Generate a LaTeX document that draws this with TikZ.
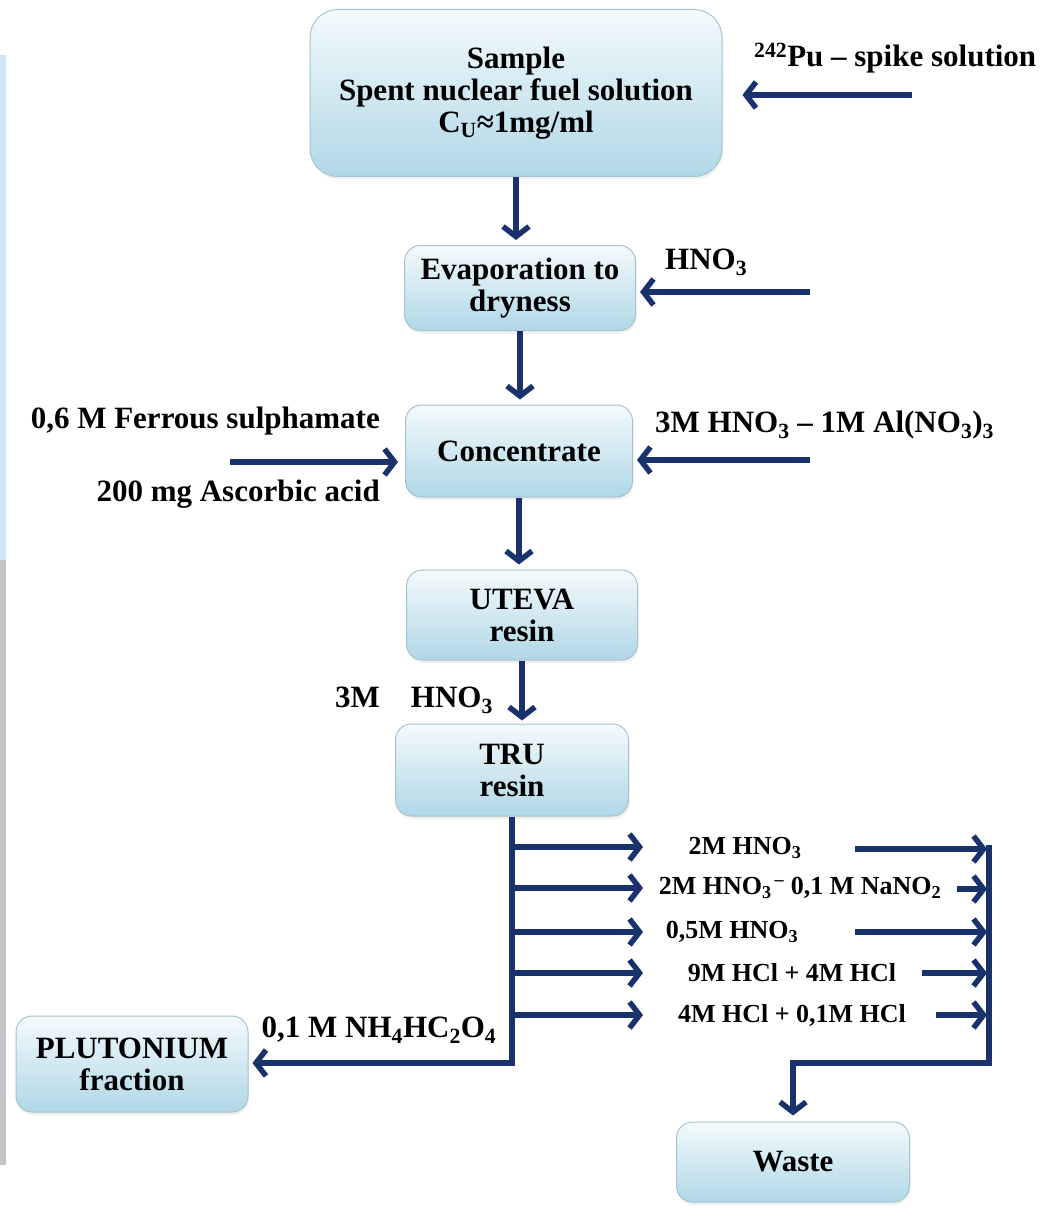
\documentclass[tikz,border=0pt]{standalone}
\usepackage{fontspec}
\setmainfont{Liberation Serif}
\usetikzlibrary{arrows.meta,shadows}
\definecolor{flowblue}{RGB}{26,50,108}
\definecolor{boxtop}{RGB}{244,250,253}
\definecolor{boxbot}{RGB}{176,215,230}
\definecolor{boxline}{RGB}{165,195,208}
\definecolor{stripblue}{RGB}{208,228,243}
\definecolor{stripgray}{RGB}{196,196,202}
\tikzset{
  procbox/.style={rounded corners=16pt, draw=boxline, line width=1pt,
    top color=boxtop, bottom color=boxbot, align=center,
    font=\fontsize{31}{32}\selectfont\bfseries,
    drop shadow={opacity=0.12, shadow xshift=1pt, shadow yshift=-3pt}},
  flow/.style={draw=flowblue, line width=5.5pt, line join=miter,
    -{Straight Barb[length=10pt, width=26pt]}},
  lab/.style={font=\fontsize{31}{32}\selectfont\bfseries, inner sep=0pt},
  slab/.style={font=\fontsize{26}{27}\selectfont\bfseries, inner sep=0pt},
}
\begin{document}
\begin{tikzpicture}[x=1pt,y=-1pt]
\useasboundingbox (0,0) rectangle (1055,1209);
% edge strip
\fill[stripblue] (0,55) rectangle (6,560);
\fill[stripgray] (0,560) rectangle (6,1165);
% boxes
\node[procbox, rounded corners=28pt, minimum width=412pt, minimum height=167pt] (sample) at (516,93) {Sample\\Spent nuclear fuel solution\\C\textsubscript{U}≈1mg/ml};
\node[procbox, minimum width=231pt, minimum height=85pt] (evap) at (520,288) {Evaporation to\\dryness};
\node[procbox, minimum width=227pt, minimum height=92pt] (conc) at (519,451) {Concentrate};
\node[procbox, minimum width=231pt, minimum height=90pt] (uteva) at (522,615) {UTEVA\\resin};
\node[procbox, minimum width=233pt, minimum height=92pt] (tru) at (512,770) {TRU\\resin};
\node[procbox, minimum width=232pt, minimum height=96pt] (plu) at (132,1064) {PLUTONIUM\\fraction};
\node[procbox, minimum width=233pt, minimum height=80pt] (waste) at (793,1162) {Waste};
% reagent labels
\node[lab, anchor=west] (spikelab) at (754,58) {\textsuperscript{242}Pu – spike solution};
\node[lab, anchor=west] (hnolab) at (665,262) {HNO\textsubscript{3}};
\node[lab, anchor=east] (fslab) at (380,421) {0,6 M Ferrous sulphamate};
\node[lab, anchor=east] (aalab) at (380,494) {200 mg Ascorbic acid};
\node[lab, anchor=west] (allab) at (655,425) {3M HNO\textsubscript{3} – 1M Al(NO\textsubscript{3})\textsubscript{3}};
\node[lab, anchor=west] (hno3lab) at (335,700) {3M\quad HNO\textsubscript{3}};
\node[lab] (oxlab) at (379,1030) {0,1 M NH\textsubscript{4}HC\textsubscript{2}O\textsubscript{4}};
\node[slab] (l1) at (745,848) {2M HNO\textsubscript{3}};
\node[slab] (l2) at (800,888) {2M HNO\textsubscript{3}\textsuperscript{\,–} 0,1 M NaNO\textsubscript{2}};
\node[slab] (l3) at (732,932) {0,5M HNO\textsubscript{3}};
\node[slab] (l4) at (792,973) {9M HCl + 4M HCl};
\node[slab] (l5) at (792,1015) {4M HCl + 0,1M HCl};
% feed arrows
\coordinate (spike) at (912,95);
\coordinate (hno) at (810,292);
\coordinate (fs) at (230,462);
\coordinate (al) at (810,460);
\draw[flow, shorten >=20pt] (spike) -- (sample.east |- spike);
\draw[flow, shorten >=4pt] (hno) -- (evap.east |- hno);
\draw[flow, shorten >=7pt] (fs) -- (conc.west |- fs);
\draw[flow, shorten >=4pt] (al) -- (conc.east |- al);
% main column
\draw[flow, shorten >=5pt] (sample.south) -- (sample.south |- evap.north);
\draw[flow, shorten >=5pt] (evap.south) -- (evap.south |- conc.north);
\draw[flow, shorten >=5pt] (conc.south) -- (conc.south |- uteva.north);
\draw[flow, shorten >=3pt] (uteva.south) -- (uteva.south |- tru.north);
% elution branches
\coordinate (trunkB) at (512,1063);
\draw[flow, shorten >=4pt] (tru.south) -- (trunkB) -- (plu.east |- trunkB);
\coordinate (r1) at (512,847);
\coordinate (r2) at (512,888);
\coordinate (r3) at (512,932);
\coordinate (r4) at (512,973);
\coordinate (r5) at (512,1015);
\coordinate (a1) at (643,847);
\coordinate (a2) at (643,888);
\coordinate (a3) at (643,932);
\coordinate (a4) at (643,973);
\coordinate (a5) at (643,1015);
\draw[flow] (r1) -- (a1);
\draw[flow] (r2) -- (a2);
\draw[flow] (r3) -- (a3);
\draw[flow] (r4) -- (a4);
\draw[flow] (r5) -- (a5);
\coordinate (s1) at (855,849);
\coordinate (s2) at (957,889);
\coordinate (s3) at (855,932);
\coordinate (s4) at (922,973);
\coordinate (s5) at (936,1015);
\coordinate (c1) at (987,849);
\coordinate (c2) at (987,889);
\coordinate (c3) at (987,932);
\coordinate (c4) at (987,973);
\coordinate (c5) at (987,1015);
\draw[flow] (s1) -- (c1);
\draw[flow] (s2) -- (c2);
\draw[flow] (s3) -- (c3);
\draw[flow] (s4) -- (c4);
\draw[flow] (s5) -- (c5);
\coordinate (cTop) at (989,845);
\coordinate (cBot) at (989,1063);
\coordinate (wTurn) at (793,1063);
\draw[flow, shorten >=6pt] (cTop) -- (cBot) -- (wTurn) -- (waste.north);
\end{tikzpicture}
\end{document}
